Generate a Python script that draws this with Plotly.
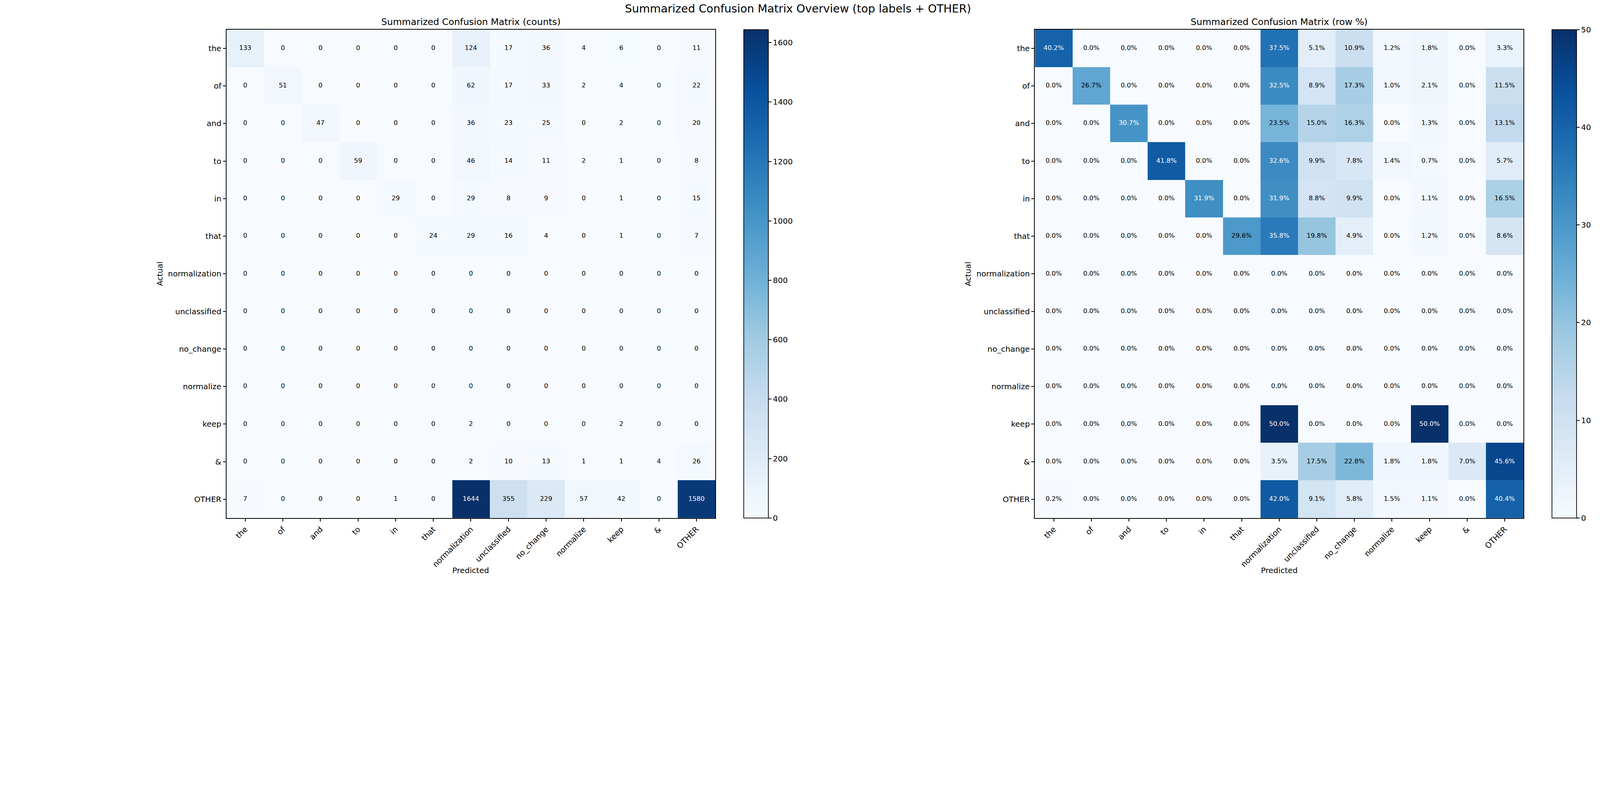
import plotly.graph_objects as go
from plotly.colors import sequential

labels = ['the', 'of', 'and', 'to', 'in', 'that', 'normalization', 'unclassified',
          'no_change', 'normalize', 'keep', '&', 'OTHER']

# counts, one list per actual row
counts_the = [133, 0, 0, 0, 0, 0, 124, 17, 36, 4, 6, 0, 11]
counts_of = [0, 51, 0, 0, 0, 0, 62, 17, 33, 2, 4, 0, 22]
counts_and = [0, 0, 47, 0, 0, 0, 36, 23, 25, 0, 2, 0, 20]
counts_to = [0, 0, 0, 59, 0, 0, 46, 14, 11, 2, 1, 0, 8]
counts_in = [0, 0, 0, 0, 29, 0, 29, 8, 9, 0, 1, 0, 15]
counts_that = [0, 0, 0, 0, 0, 24, 29, 16, 4, 0, 1, 0, 7]
counts_normalization = [0, 0, 0, 0, 0, 0, 0, 0, 0, 0, 0, 0, 0]
counts_unclassified = [0, 0, 0, 0, 0, 0, 0, 0, 0, 0, 0, 0, 0]
counts_no_change = [0, 0, 0, 0, 0, 0, 0, 0, 0, 0, 0, 0, 0]
counts_normalize = [0, 0, 0, 0, 0, 0, 0, 0, 0, 0, 0, 0, 0]
counts_keep = [0, 0, 0, 0, 0, 0, 2, 0, 0, 0, 2, 0, 0]
counts_amp = [0, 0, 0, 0, 0, 0, 2, 10, 13, 1, 1, 4, 26]
counts_other = [7, 0, 0, 0, 1, 0, 1644, 355, 229, 57, 42, 0, 1580]

# row percentages, as printed in the cells
pct_the = [40.2, 0.0, 0.0, 0.0, 0.0, 0.0, 37.5, 5.1, 10.9, 1.2, 1.8, 0.0, 3.3]
pct_of = [0.0, 26.7, 0.0, 0.0, 0.0, 0.0, 32.5, 8.9, 17.3, 1.0, 2.1, 0.0, 11.5]
pct_and = [0.0, 0.0, 30.7, 0.0, 0.0, 0.0, 23.5, 15.0, 16.3, 0.0, 1.3, 0.0, 13.1]
pct_to = [0.0, 0.0, 0.0, 41.8, 0.0, 0.0, 32.6, 9.9, 7.8, 1.4, 0.7, 0.0, 5.7]
pct_in = [0.0, 0.0, 0.0, 0.0, 31.9, 0.0, 31.9, 8.8, 9.9, 0.0, 1.1, 0.0, 16.5]
pct_that = [0.0, 0.0, 0.0, 0.0, 0.0, 29.6, 35.8, 19.8, 4.9, 0.0, 1.2, 0.0, 8.6]
pct_normalization = [0.0] * 13
pct_unclassified = [0.0] * 13
pct_no_change = [0.0] * 13
pct_normalize = [0.0] * 13
pct_keep = [0.0, 0.0, 0.0, 0.0, 0.0, 0.0, 50.0, 0.0, 0.0, 0.0, 50.0, 0.0, 0.0]
pct_amp = [0.0, 0.0, 0.0, 0.0, 0.0, 0.0, 3.5, 17.5, 22.8, 1.8, 1.8, 7.0, 45.6]
pct_other = [0.2, 0.0, 0.0, 0.0, 0.0, 0.0, 42.0, 9.1, 5.8, 1.5, 1.1, 0.0, 40.4]

count_ticks = [0, 200, 400, 600, 800, 1000, 1200, 1400, 1600]
pct_ticks = [0, 10, 20, 30, 40, 50]

counts = [counts_the, counts_of, counts_and, counts_to, counts_in, counts_that,
          counts_normalization, counts_unclassified, counts_no_change, counts_normalize,
          counts_keep, counts_amp, counts_other]
pct = [pct_the, pct_of, pct_and, pct_to, pct_in, pct_that, pct_normalization,
       pct_unclassified, pct_no_change, pct_normalize, pct_keep, pct_amp, pct_other]

FONT = 'DejaVu Sans'
blues = sequential.Blues

# the page is shown zoomed (~1.4 device px per css px) with an 8px body margin,
# so the reference geometry (in screenshot px) is converted to css px
ZOOM = 1.4
BODY = 8
W = 4066
H = 1470


def s(v):
    return v / ZOOM


def px_x(v):
    return (v / ZOOM - BODY) / W


def px_y(v):
    return 1 - (v / ZOOM - BODY) / H


# reference geometry (screenshot px)
left_x = (812, 2565)
right_x = (3711, 5463)
top_px, bot_px = 106, 1858
cbar_left = [2667, 5565]


def cell_text(z, fmt, thresh, xa, ya):
    xs, ys, ts, cs = [], [], [], []
    for i, row in enumerate(z):
        for j, v in enumerate(row):
            xs.append(labels[j])
            ys.append(labels[i])
            ts.append(fmt.format(v))
            cs.append('white' if v > thresh else 'black')
    return go.Scatter(x=xs, y=ys, text=ts, mode='text', xaxis=xa, yaxis=ya,
                      textfont=dict(family=FONT, size=s(23), color=cs),
                      hoverinfo='skip', showlegend=False)


def cbar(x_px, ticks):
    return dict(x=px_x(x_px), xanchor='left', y=px_y(top_px), yanchor='top',
                lenmode='pixels', len=s(bot_px - top_px), thickness=s(88), xpad=0, ypad=0,
                outlinewidth=s(2.5), outlinecolor='black', ticks='outside', ticklen=s(10),
                tickwidth=s(2.2), tickcolor='black', tickvals=ticks,
                tickfont=dict(family=FONT, size=s(28), color='black'))


zmax_counts = max(max(r) for r in counts)

fig = go.Figure()
fig.add_trace(go.Heatmap(
    z=counts, x=labels, y=labels, colorscale=blues, zmin=0, zmax=zmax_counts,
    xaxis='x', yaxis='y', colorbar=cbar(cbar_left[0], count_ticks),
))
fig.add_trace(cell_text(counts, '{}', zmax_counts * 0.6, 'x', 'y'))

fig.add_trace(go.Heatmap(
    z=pct, x=labels, y=labels, colorscale=blues, zmin=0, zmax=50,
    xaxis='x2', yaxis='y2', colorbar=cbar(cbar_left[1], pct_ticks),
))
fig.add_trace(cell_text(pct, '{:.1f}%', 30, 'x2', 'y2'))

axis_common = dict(showline=True, mirror=True, linecolor='black', linewidth=s(2.5),
                   ticks='outside', ticklen=s(10), tickwidth=s(2.2), tickcolor='black',
                   showgrid=False, zeroline=False, fixedrange=True,
                   tickfont=dict(family=FONT, size=s(28), color='black'),
                   type='category', categoryorder='array', categoryarray=labels)

fig.update_layout(
    width=W, height=H,
    margin=dict(l=0, r=0, t=0, b=0),
    paper_bgcolor='white', plot_bgcolor='white',
    font=dict(family=FONT, color='black'),
    title=dict(text='Summarized Confusion Matrix Overview (top labels + OTHER)',
               x=px_x(2860), xanchor='center', y=1, yanchor='top', pad=dict(t=4),
               font=dict(family=FONT, size=s(40), color='black')),
    xaxis=dict(domain=[px_x(left_x[0]), px_x(left_x[1])], anchor='y',
               range=[-0.5, 12.5], tickangle=-45, **axis_common),
    yaxis=dict(domain=[px_y(bot_px), px_y(top_px)], anchor='x',
               range=[12.5, -0.5], **axis_common),
    xaxis2=dict(domain=[px_x(right_x[0]), px_x(right_x[1])], anchor='y2',
                range=[-0.5, 12.5], tickangle=-45, **axis_common),
    yaxis2=dict(domain=[px_y(bot_px), px_y(top_px)], anchor='x2',
                range=[12.5, -0.5], **axis_common),
)

anno_font = dict(family=FONT, size=s(28), color='black')
for (x0, x1), sub in [(left_x, 'Summarized Confusion Matrix (counts)'),
                      (right_x, 'Summarized Confusion Matrix (row %)')]:
    xc = px_x((x0 + x1) / 2)
    fig.add_annotation(text=sub, x=xc, y=px_y(78), xref='paper', yref='paper',
                       xanchor='center', yanchor='middle', showarrow=False,
                       font=dict(family=FONT, size=s(33), color='black'))
    fig.add_annotation(text='Predicted', x=xc, y=px_y(2046), xref='paper', yref='paper',
                       xanchor='center', yanchor='middle', showarrow=False, font=anno_font)
    fig.add_annotation(text='Actual', x=px_x(x0 - 239), y=px_y((top_px + bot_px) / 2),
                       xref='paper', yref='paper', xanchor='center', yanchor='middle',
                       textangle=-90, showarrow=False, font=anno_font)

fig.write_html("out.html")
